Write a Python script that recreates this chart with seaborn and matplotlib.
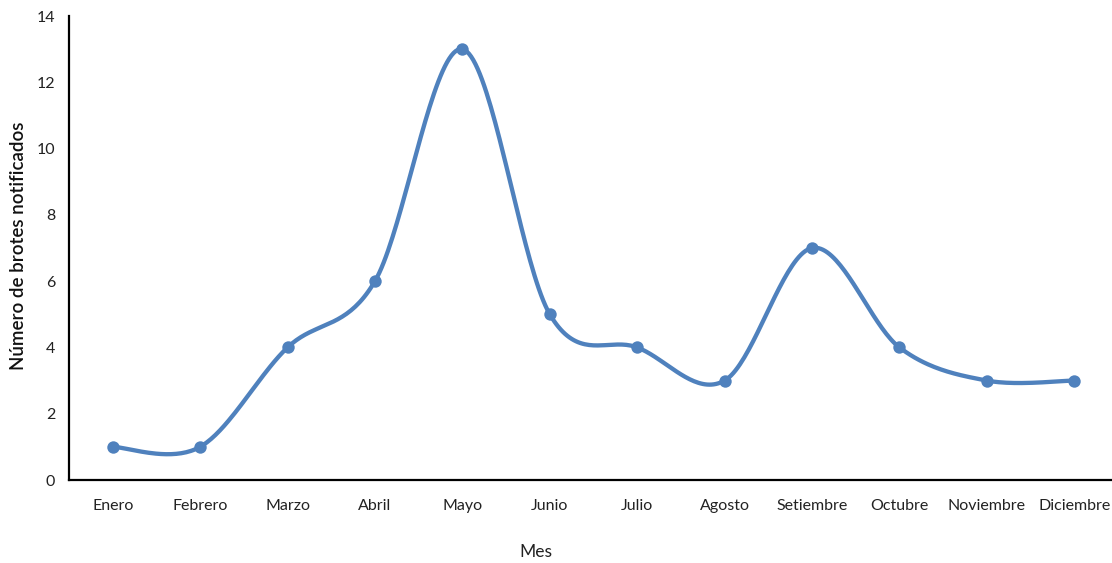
import numpy as np
import pandas as pd
import matplotlib
matplotlib.use("Agg")
import matplotlib.pyplot as plt
import seaborn as sns

meses = ["Enero", "Febrero", "Marzo", "Abril", "Mayo", "Junio", "Julio",
         "Agosto", "Setiembre", "Octubre", "Noviembre", "Diciembre"]
brotes = [1, 1, 4, 6, 13, 5, 4, 3, 7, 4, 3, 3]

sns.set_theme(style="white")
plt.rcParams["font.family"] = ["Lato", "DejaVu Sans"]

LINE_COLOR = "#4F81BD"


def smooth_curve(xs, ys, steps=40):
    """Cubic Bezier smoothing through every point (Catmull-Rom style)."""
    xs = np.asarray(xs, float)
    ys = np.asarray(ys, float)
    n = len(xs)
    px, py = [], []
    for i in range(n - 1):
        i0 = max(i - 1, 0)
        i3 = min(i + 2, n - 1)
        c1x = xs[i] + (xs[i + 1] - xs[i0]) / 6
        c1y = ys[i] + (ys[i + 1] - ys[i0]) / 6
        c2x = xs[i + 1] - (xs[i3] - xs[i]) / 6
        c2y = ys[i + 1] - (ys[i3] - ys[i]) / 6
        t = np.linspace(0, 1, steps, endpoint=(i == n - 2))
        a = (1 - t) ** 3
        b = 3 * (1 - t) ** 2 * t
        c = 3 * (1 - t) * t ** 2
        d = t ** 3
        px.append(a * xs[i] + b * c1x + c * c2x + d * xs[i + 1])
        py.append(a * ys[i] + b * c1y + c * c2y + d * ys[i + 1])
    return np.concatenate(px), np.concatenate(py)


pos = np.arange(len(meses))
sx, sy = smooth_curve(pos, brotes)
curve = pd.DataFrame({"x": sx, "y": sy})
puntos = pd.DataFrame({"x": pos, "y": brotes})

fig = plt.figure(figsize=(11.12, 5.63), dpi=100)
ax = fig.add_axes([69 / 1112, 1 - 480 / 563, (1118 - 69) / 1112, (480 - 16) / 563])

sns.lineplot(data=curve, x="x", y="y", ax=ax, color=LINE_COLOR, linewidth=3.1,
             sort=False, estimator=None)
sns.scatterplot(data=puntos, x="x", y="y", ax=ax, color=LINE_COLOR, s=80,
                edgecolor=LINE_COLOR, linewidth=0, zorder=3)

ax.set_xlim(-0.5, len(meses) - 0.5)
ax.set_ylim(0, 14)
ax.set_yticks(range(0, 15, 2))
ax.set_xticks(pos)
ax.set_xticklabels(meses)
ax.tick_params(axis="both", length=0, labelsize=11.5, colors="#222222")
ax.tick_params(axis="x", pad=14)
ax.tick_params(axis="y", pad=10)

ax.set_xlabel("Mes", fontsize=12.5, color="#222222", va="center")
ax.set_ylabel("Número de brotes notificados", fontsize=13.5, color="#111111",
              va="center", fontweight="semibold")
ax.xaxis.set_label_coords((536 - 69) / 1049, (480 - 552) / 464)
ax.yaxis.set_label_coords((19 - 69) / 1049, (480 - 246) / 464)

for side in ["top", "right"]:
    ax.spines[side].set_visible(False)
for side in ["left", "bottom"]:
    ax.spines[side].set_color("black")
    ax.spines[side].set_linewidth(1.6)

fig.savefig("out.png", dpi=100)
